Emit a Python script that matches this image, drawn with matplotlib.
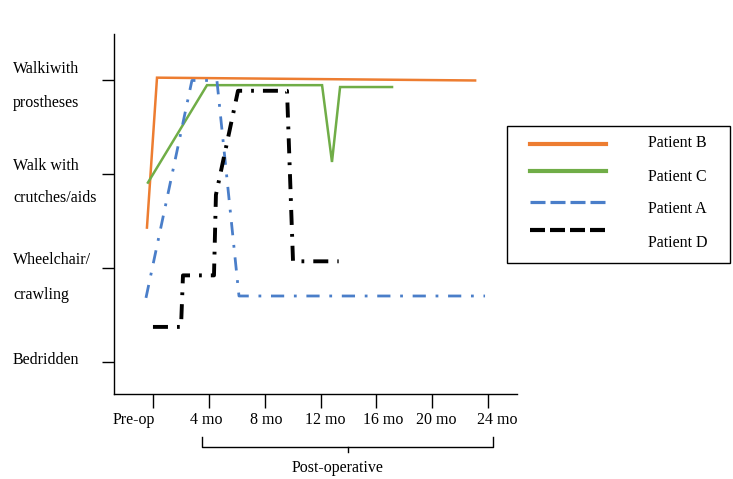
import matplotlib
matplotlib.use("Agg")
import matplotlib.pyplot as plt
from matplotlib import transforms
from matplotlib.lines import Line2D
from matplotlib.patches import Rectangle

plt.rcParams['font.family'] = ['Liberation Serif', 'DejaVu Serif']
plt.rcParams['lines.scale_dashes'] = False
FS = 11.5

# ---- data (x in months, pre-op = 0; y = mobility level 1..4) ----
x_ticks = [0, 4, 8, 12, 16, 20, 24]
x_labels = ['Pre-op', '4 mo', '8 mo', '12 mo', '16 mo', '20 mo', '24 mo']
levels = [1, 2, 3, 4]
level_lines = [('Bedridden',), ('Wheelchair/', 'crawling'),
               ('Walk with', 'crutches/aids'), ('Walkiwith', 'prostheses')]

b_x = [-0.43, 0.29, 23.07]
b_y = [2.43, 4.03, 4.00]

c_x = [-0.36, 3.87, 12.11, 12.82, 13.40, 17.12]
c_y = [2.91, 3.95, 3.95, 3.13, 3.93, 3.93]

a_x = [-0.50, 2.79, 4.58, 6.16, 23.78]
a_y = [1.68, 4.00, 4.00, 1.70, 1.70]

d_x = [0.0, 2.01, 2.15, 4.37, 4.51, 6.09, 9.60, 10.03, 13.30]
d_y = [1.37, 1.37, 1.92, 1.92, 2.78, 3.89, 3.89, 2.07, 2.07]

legend_names = ['Patient B', 'Patient C', 'Patient A', 'Patient D']

ORANGE = '#ED7D31'
GREEN = '#70AD47'
BLUE = '#4A7EC9'
BLACK = '#000000'

W, H = 733, 479
fig = plt.figure(figsize=(W / 100, H / 100), dpi=100)
ax = fig.add_axes([114 / W, 1 - 394 / H, 403 / W, 360 / H])

ax.plot(b_x, b_y, color=ORANGE, lw=1.8, solid_joinstyle='miter')
ax.plot(c_x, c_y, color=GREEN, lw=1.8, solid_joinstyle='miter')
la, = ax.plot(a_x, a_y, color=BLUE, lw=2.0)
la.set_dashes((9.5, 7, 2, 7))
ld, = ax.plot(d_x, d_y, color=BLACK, lw=2.8)
ld.set_dashes((10.8, 6.5, 2, 6.5))

ax.set_xlim(-2.79, 26.07)
ax.set_ylim(0.654, 4.496)
for s in ['top', 'right']:
    ax.spines[s].set_visible(False)
for s in ['left', 'bottom']:
    ax.spines[s].set_linewidth(1.0)

ax.set_xticks(x_ticks)
ax.set_xticklabels(x_labels, fontsize=FS)
ax.tick_params(axis='x', direction='out', length=10, width=1.0, pad=3)
offsets_px = [-19, -3, 2, 5, 7, 4, 9]
for lab, dx in zip(ax.get_xticklabels(), offsets_px):
    lab.set_transform(lab.get_transform() +
                      transforms.ScaledTranslation(dx / 100, 0, fig.dpi_scale_trans))

ax.set_yticks(levels)
ax.set_yticklabels([''] * len(levels))
ax.tick_params(axis='y', direction='out', length=8.6, width=1.0)

# y-level labels (two lines, left aligned)
ytrans = transforms.blended_transform_factory(fig.transFigure, ax.transData)
label_pos = {1: [1.017], 2: [2.084, 1.71], 3: [3.087, 2.745], 4: [4.12, 3.76]}
for lvl, lines in zip(levels, level_lines):
    for txt, yy in zip(lines, label_pos[lvl]):
        ax.text(13 / W, yy, txt, transform=ytrans, ha='left', va='center',
                fontsize=FS, clip_on=False)

# Post-operative bracket
btrans = transforms.blended_transform_factory(ax.transData, fig.transFigure)
bx0, bx1 = 3.51, 24.36
ytop, ybot = 1 - 437 / H, 1 - 447 / H
xmid = (bx0 + bx1) / 2
for xs, ys in [([bx0, bx0, bx1, bx1], [ytop, ybot, ybot, ytop]),
               ([xmid, xmid], [ybot, 1 - 452 / H])]:
    fig.add_artist(Line2D(xs, ys, transform=btrans, color='black', lw=1.0))
fig.text(338 / W, 1 - 468 / H, 'Post-operative', ha='center', va='center', fontsize=FS)

# legend box (manual)
fig.add_artist(Rectangle((507 / W, 1 - 263 / H), (730 - 507) / W, (263 - 126) / H,
                         transform=fig.transFigure, fill=False, edgecolor='black', lw=1.0))
leg_styles = [(ORANGE, 3.0, None), (GREEN, 3.0, None),
              (BLUE, 2.3, (10.8, 3.6)), (BLACK, 3.0, (10.8, 3.6))]
line_y = [144, 171, 202, 230]
text_y = [143, 177, 209, 243]
for name, (col, lw, dash), ly, ty in zip(legend_names, leg_styles, line_y, text_y):
    ln = Line2D([530 / W, 606 / W], [1 - ly / H, 1 - ly / H], transform=fig.transFigure,
                color=col, lw=lw)
    if dash:
        ln.set_dashes(dash)
    fig.add_artist(ln)
    fig.text(648 / W, 1 - ty / H, name, ha='left', va='center', fontsize=FS)

fig.savefig('out.png', dpi=100)
